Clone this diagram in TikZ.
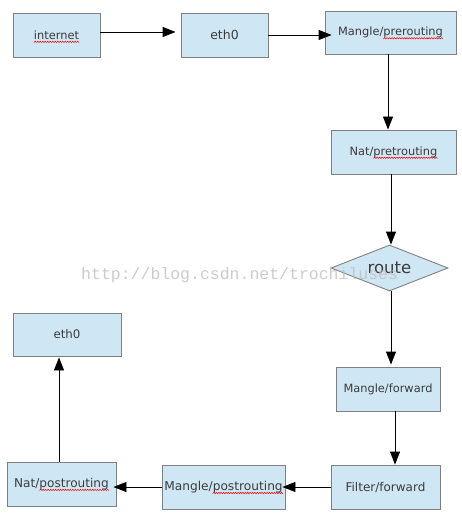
\documentclass[tikz,border=0pt]{standalone}
\usepackage{fontspec}
\setmainfont{DejaVu Sans}
\newfontfamily\wmfont{Liberation Mono}
\usetikzlibrary{arrows.meta,shapes.geometric}
\newsavebox\wavebox
\AtBeginDocument{\sbox\wavebox{\pgfpicture
  \pgfpathrectangle{\pgfpointorigin}{\pgfpoint{2.4pt}{1.2pt}}\pgfusepath{use as bounding box}
  \pgfsetlinewidth{0.55pt}\pgfsetstrokecolor{red}\pgfsetroundcap
  \pgfpathmoveto{\pgfpointorigin}\pgfpathlineto{\pgfpoint{1.2pt}{1.2pt}}\pgfpathlineto{\pgfpoint{2.4pt}{0pt}}
  \pgfusepath{stroke}\endpgfpicture}}
\newcommand\redwave[1]{\setbox0\hbox{#1}\rlap{\raisebox{-3.2pt}[0pt][0pt]{\hbox to \wd0{\xleaders\copy\wavebox\hfil}}}\box0}
\definecolor{boxfill}{RGB}{207,230,244}
\definecolor{boxdraw}{RGB}{128,128,128}
\definecolor{txt}{RGB}{60,60,60}
\tikzset{
  box/.style={draw=boxdraw, fill=boxfill, line width=0.9pt, text=txt, inner sep=0pt,
    font=\fontsize{11.4}{13}\selectfont},
  arr/.style={line width=0.9pt, -{Triangle[length=13pt,width=10pt]}}
}
\begin{document}
\begin{tikzpicture}[x=1pt,y=-1pt]
\useasboundingbox (0,0) rectangle (461,526);
\node[box, minimum width=87pt, minimum height=44pt] (inet) at (56.5,35) {\redwave{internet}};
\node[box, minimum width=87pt, minimum height=44pt, font=\fontsize{12.5}{14}\selectfont] (etha) at (224.5,35) {eth0};
\node[box, minimum width=131pt, minimum height=43pt] (mpre) at (390.5,32.5) {Mangle/\redwave{prerouting}};
\node[box, minimum width=125pt, minimum height=44pt] (npre) at (393.5,152) {Nat/\redwave{pretrouting}};
\node[diamond, draw=boxdraw, fill=boxfill, line width=0.9pt, text=txt, inner sep=0pt,
  shape aspect=2.54, minimum width=117pt, minimum height=46pt,
  font=\fontsize{16.5}{18}\selectfont] (route) at (389.5,268) {route};
\node[box, minimum width=108pt, minimum height=43pt, font=\fontsize{11.8}{14}\selectfont] (ethb) at (67,334.5) {eth0};
\node[box, minimum width=104pt, minimum height=44pt] (mfwd) at (388,389) {Mangle/forward};
\node[box, minimum width=109pt, minimum height=44pt, font=\fontsize{12}{14}\selectfont] (ffwd) at (385.5,487) {Filter/forward};
\node[box, minimum width=123pt, minimum height=44pt, font=\fontsize{12.2}{14}\selectfont] (mpost) at (223.5,487) {Mangle/\redwave{postrouting}};
\node[box, minimum width=109pt, minimum height=44pt, font=\fontsize{12.1}{14}\selectfont] (npost) at (61.5,484) {Nat/\redwave{postrouting}};

\draw[arr, shorten >=5pt] (inet.east |- 0,32) -- (etha.west |- 0,32);
\draw[arr, shorten >=-7pt] (etha.east |- 0,35) -- (mpre.west |- 0,35);
\draw[arr] (mpre.south -| 388,0) -- (npre.north -| 388,0);
\draw[arr] (npre.south -| 391,0) -- (route.north -| 391,0);
\draw[arr, shorten >=2pt] (route.south -| 391,0) -- (mfwd.north -| 391,0);
\draw[arr] (mfwd.south -| 395,0) -- (ffwd.north -| 395,0);
\draw[arr, shorten >=-3pt] (ffwd.west |- 0,487) -- (mpost.east |- 0,487);
\draw[arr, shorten >=-3pt] (mpost.west |- 0,487) -- (npost.east |- 0,487);
\draw[arr, shorten >=1pt] (npost.north -| 59,0) -- (ethb.south -| 59,0);

\node[anchor=base west, inner sep=0pt, text=black!25, text opacity=0.8,
  font=\wmfont\fontsize{16.5}{18}\selectfont] (wm) at (81,279) {http://blog.csdn.net/trochiluses};
\end{tikzpicture}
\end{document}
